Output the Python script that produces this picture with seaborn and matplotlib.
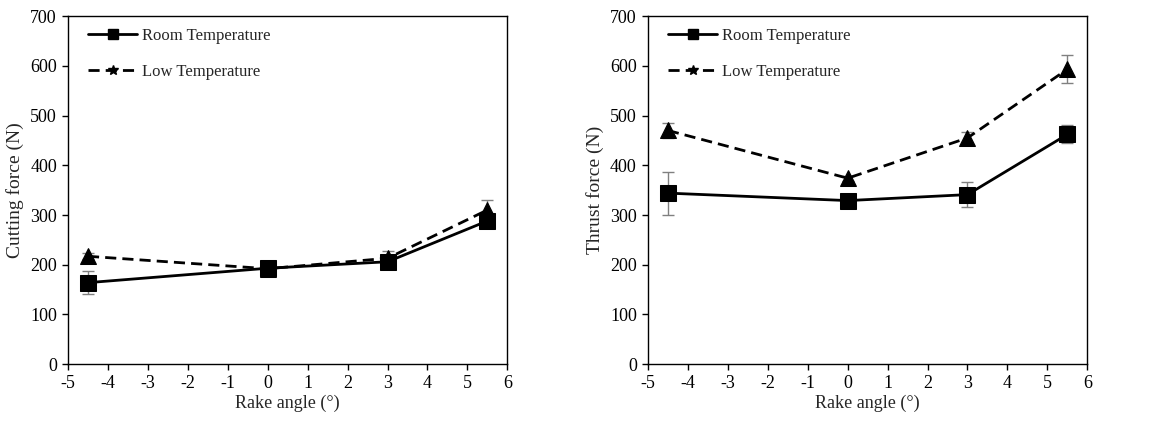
import numpy as np
import pandas as pd
import matplotlib
matplotlib.use("Agg")
import matplotlib.pyplot as plt
import seaborn as sns
from matplotlib.lines import Line2D

# Данные
rake_angle = [-4.5, 0, 3, 5.5]
series_names = ["Room Temperature", "Low Temperature"]

cutting_room = [164, 193, 206, 288]
cutting_room_err = [23, 10, 6, 8]
cutting_low = [217, 192, 213, 310]
cutting_low_err = [6, 5, 15, 20]

thrust_room = [344, 329, 341, 462]
thrust_room_err = [43, 6, 25, 18]
thrust_low = [470, 374, 455, 593]
thrust_low_err = [15, 5, 12, 28]

sns.set_style("ticks")
plt.rcParams["font.family"] = ["Liberation Serif", "DejaVu Serif"]
plt.rcParams["font.size"] = 13
plt.rcParams["axes.unicode_minus"] = False

fig = plt.figure(figsize=(11.53, 4.23), dpi=100)
ax1 = fig.add_axes([0.059, 0.139, 0.381, 0.823])
ax2 = fig.add_axes([0.562, 0.139, 0.381, 0.823])


def draw_panel(ax, room, room_err, low, low_err, ylabel):
    df = pd.DataFrame({
        "Rake angle": rake_angle * 2,
        "Force": room + low,
        "Series": [series_names[0]] * 4 + [series_names[1]] * 4,
    })
    # Планки погрешностей
    ax.errorbar(rake_angle, room, yerr=room_err, fmt="none", ecolor="#808080",
                elinewidth=1, capsize=4, capthick=1, zorder=1)
    ax.errorbar(rake_angle, low, yerr=low_err, fmt="none", ecolor="#808080",
                elinewidth=1, capsize=4, capthick=1, zorder=1)
    sns.lineplot(data=df, x="Rake angle", y="Force", hue="Series", style="Series",
                 palette=["black", "black"], dashes=[(None, None), (4, 2.2)],
                 markers=["s", "^"], markersize=11, linewidth=2, markeredgecolor="black",
                 legend=False, ax=ax, zorder=3)

    ax.set_xlim(-5, 6)
    ax.set_ylim(0, 700)
    ax.set_xticks(range(-5, 7))
    ax.set_yticks(range(0, 701, 100))
    ax.set_xlabel("Rake angle (°)", fontsize=13, labelpad=2)
    ax.set_ylabel(ylabel, fontsize=14, labelpad=4)
    ax.tick_params(direction="out", length=4, width=1, labelsize=13, colors="black", pad=4)
    for side in ["top", "right", "left", "bottom"]:
        ax.spines[side].set_visible(True)
        ax.spines[side].set_linewidth(1)
        ax.spines[side].set_color("black")

    handles = [
        Line2D([0], [0], color="black", lw=2, marker="s", markersize=7),
        Line2D([0], [0], color="black", lw=2, linestyle=(0, (4, 2.2)), marker="*", markersize=7),
    ]
    ax.legend(handles, series_names, loc="upper left", frameon=False, fontsize=12,
              handlelength=2.9, labelspacing=1.2, borderaxespad=0.3, handletextpad=0.3,
              bbox_to_anchor=(0.02, 1.0))


draw_panel(ax1, cutting_room, cutting_room_err, cutting_low, cutting_low_err, "Cutting force (N)")
draw_panel(ax2, thrust_room, thrust_room_err, thrust_low, thrust_low_err, "Thrust force (N)")

fig.savefig("out.png", dpi=100)
